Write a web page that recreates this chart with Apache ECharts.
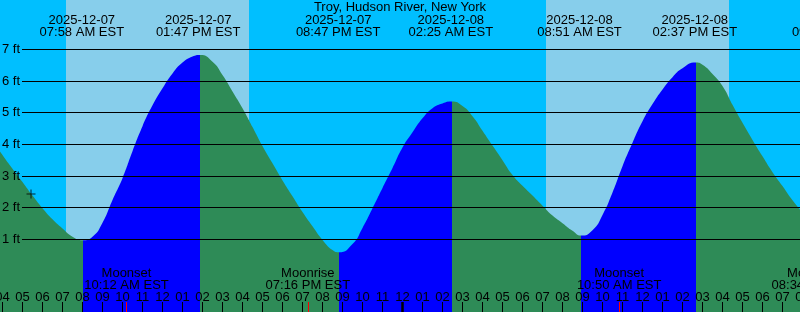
<!DOCTYPE html>
<html><head><meta charset="utf-8">
<script src="https://cdn.jsdelivr.net/npm/echarts@6/dist/echarts.min.js"></script>
<style>html,body{margin:0;padding:0;background:#00BFFF;overflow:hidden}#c{width:800px;height:312px}</style>
</head><body><div id="c"></div>
<script>
// All times are hours since 2025-12-07 00:00 EST
const chartTitle = 'Troy, Hudson River, New York';
const tideTimes = [3.5,4,4.5,5,5.5,6,6.5,7,7.5,8.01,8.5,9,9.5,10,10.5,11,11.5,12,12.5,13,13.5,13.875,14.5,15,15.5,16,16.5,17,17.5,18,18.5,19,19.5,20,20.5,20.825,21.5,22,22.5,23,23.5,24,24.5,25,25.5,26,26.46,27,27.5,28,28.5,29,29.5,30,30.5,31,31.5,32,32.5,32.925,33.5,34,34.5,35,35.5,36,36.5,37,37.5,38,38.66,39,39.5,40,40.5,41,41.5,42,42.5,43,43.5,44];
const tideHeights = [4.15,3.66,3.23,2.81,2.38,1.98,1.63,1.34,1.08,0.97,1.08,1.52,2.24,2.93,3.78,4.57,5.23,5.77,6.24,6.58,6.77,6.82,6.61,6.19,5.67,5.14,4.55,3.95,3.4,2.86,2.36,1.86,1.41,0.98,0.66,0.59,0.85,1.36,1.98,2.62,3.25,3.9,4.38,4.82,5.14,5.29,5.35,5.21,4.89,4.43,3.96,3.5,3.03,2.69,2.38,2.06,1.75,1.51,1.27,1.12,1.29,1.77,2.48,3.31,4.05,4.73,5.27,5.73,6.12,6.4,6.58,6.51,6.22,5.84,5.25,4.68,4.14,3.62,3.12,2.68,2.23,1.85];
// turning points of the fill (falling -> rising -> falling ...)
const fillSplits = [8.01, 13.875, 20.825, 26.46, 32.925, 38.66];
// high / low tide labels
const extremeTimes = [7.967, 13.783, 20.783, 26.417, 32.85, 38.617, 45.583];
const extremeDates = ['2025-12-07','2025-12-07','2025-12-07','2025-12-08','2025-12-08','2025-12-08','2025-12-08'];
const extremeClock = ['07:58 AM EST','01:47 PM EST','08:47 PM EST','02:25 AM EST','08:51 AM EST','02:37 PM EST','09:35 PM EST'];
// moon events
const moonTimes = [10.2, 19.267, 34.833, 44.567];
const moonEvents = ['Moonset','Moonrise','Moonset','Moonrise'];
const moonClock = ['10:12 AM EST','07:16 PM EST','10:50 AM EST','08:34 PM EST'];
// daylight
const dayStart = [7.175, 31.175];
const dayEnd = [16.325, 40.325];
const midnightTimes = [24];
const hourNames = ['12','01','02','03','04','05','06','07','08','09','10','11'];
const nowMarker = [5.425, 2.43];
const ftLevels = [1, 7];

const FONT = 'Liberation Sans, Arial, sans-serif';
const txt = {color: '#000', fontFamily: FONT, fontSize: 13};
const C_NIGHT = '#00BFFF', C_DAY = '#87CEEB', C_RISE = '#0000FF', C_FALL = '#2E8B57';

function findIdx(arr, v) {
  let best = 0, bd = Infinity;
  arr.forEach((a, i) => { const d = Math.abs(a - v); if (d < bd) { bd = d; best = i; } });
  return best;
}

const pieces = [];
fillSplits.forEach((s, i) => {
  const p = {color: i % 2 === 0 ? C_FALL : C_RISE};
  if (i > 0) p.gte = fillSplits[i - 1];
  p.lt = s;
  pieces.push(p);
});
pieces.push({gte: fillSplits[fillSplits.length - 1], color: fillSplits.length % 2 === 0 ? C_FALL : C_RISE});

const xMin = 3, xMax = 46;
const baseX = {
  type: 'value', min: xMin, max: xMax, gridIndex: 0,
  axisLine: {show: false, onZero: false},
  splitLine: {show: false}
};

const chart = echarts.init(document.getElementById('c'), null, {renderer: 'canvas'});
chart.setOption({
  animation: false,
  backgroundColor: C_NIGHT,
  title: {
    text: chartTitle, left: 'center', top: 1, padding: 0,
    textStyle: Object.assign({}, txt, {fontWeight: 'normal', lineHeight: 13})
  },
  grid: [
    {left: -17.5, right: -42.5, top: 0, bottom: 0, containLabel: false, outerBoundsMode: 'none'},
    {left: 22, right: 0, top: 49.33, bottom: 72.67, containLabel: false, outerBoundsMode: 'none'}
  ],
  xAxis: [
    Object.assign({}, baseX, {
      position: 'bottom', interval: 1, z: 10,
      axisTick: {show: true, inside: true, length: 10, interval: 0, lineStyle: {color: '#000', width: 1}},
      axisLabel: Object.assign({}, txt, {
        inside: true, margin: 9, interval: 0, hideOverlap: false, showMinLabel: true, showMaxLabel: true,
        lineHeight: 12,
        formatter: v => Number.isInteger(v) ? hourNames[((v % 24) + 24) % 24 % 12] : ''
      })
    }),
    Object.assign({}, baseX, {
      position: 'top', z: 10,
      axisTick: {show: false},
      axisLabel: Object.assign({}, txt, {
        inside: true, margin: 14, lineHeight: 12, hideOverlap: false,
        customValues: extremeTimes,
        formatter: v => { const i = findIdx(extremeTimes, v); return extremeDates[i] + '\n' + extremeClock[i]; }
      })
    }),
    Object.assign({}, baseX, {
      position: 'bottom', z: 11,
      axisTick: {show: true, inside: true, length: 10, customValues: moonTimes, lineStyle: {color: '#FF0000', width: 1}},
      axisLabel: Object.assign({}, txt, {
        inside: true, margin: 21, lineHeight: 12, hideOverlap: false,
        customValues: moonTimes,
        formatter: v => { const i = findIdx(moonTimes, v); return moonEvents[i] + '\n' + moonClock[i]; }
      })
    }),
    Object.assign({}, baseX, {
      position: 'bottom', z: 11,
      axisTick: {show: true, inside: true, length: 10, customValues: midnightTimes, lineStyle: {color: '#000', width: 2.5}},
      axisLabel: {show: false}
    }),
    {type: 'value', gridIndex: 1, min: xMin, max: xMax, show: false, splitLine: {show: false}}
  ],
  yAxis: [
    {type: 'value', gridIndex: 0, min: -1.295, max: 8.557, show: false, splitLine: {show: false}},
    {
      type: 'value', gridIndex: 1, min: ftLevels[0], max: ftLevels[1], interval: 1, z: 10,
      axisLine: {show: false}, axisTick: {show: false},
      axisLabel: Object.assign({}, txt, {margin: 2, formatter: v => v + ' ft'}),
      splitLine: {show: true, lineStyle: {color: '#000', width: 1}}
    }
  ],
  visualMap: {
    type: 'piecewise', show: false, dimension: 0, seriesIndex: 0, pieces: pieces
  },
  series: [
    {
      type: 'line', xAxisIndex: 0, yAxisIndex: 0, z: 2,
      data: tideTimes.map((t, i) => [t, tideHeights[i]]),
      smooth: 0.55, showSymbol: false, symbol: 'none',
      lineStyle: {width: 0},
      areaStyle: {opacity: 1, origin: 'start'},
      markArea: {
        silent: true, z: 1,
        itemStyle: {color: C_DAY, opacity: 1, borderWidth: 0},
        data: dayStart.map((s, i) => [{xAxis: s}, {xAxis: dayEnd[i]}])
      }
    },
    {
      type: 'scatter', xAxisIndex: 0, yAxisIndex: 0, z: 20,
      data: [nowMarker],
      symbol: 'path://M4,0h1v9h-1zM0,4h9v1h-9z', symbolSize: 9,
      itemStyle: {color: '#000'}
    }
  ]
});
</script></body></html>
